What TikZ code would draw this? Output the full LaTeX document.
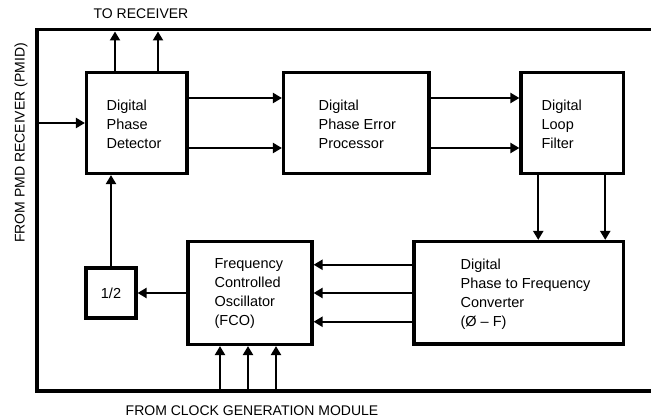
\documentclass[tikz,border=0pt]{standalone}
\usepackage{fontspec}
\setmainfont{Liberation Sans}
\usetikzlibrary{arrows.meta}
\tikzset{
  x=1pt, y=-1pt,
  frame/.style={line width=3.5pt, line cap=rect},
  blk/.style={draw, line width=3.2pt, inner sep=0pt, minimum width=#1},
  blk/.default=100pt,
  lbl/.style={font=\fontsize{14.5}{19}\selectfont, align=left, inner sep=0pt, anchor=west},
  captxt/.style={font=\fontsize{14}{16}\selectfont, inner sep=0pt},
  arr/.style={line width=2.4pt, -{Triangle[width=10pt,length=9pt]}}
}
\begin{document}
\begin{tikzpicture}
\useasboundingbox (0,0) rectangle (651,419);
% frame
\draw[frame] (651,29.5) -- (37,29.5) -- (37,391) -- (651,391);
% boxes
\node[blk=100.5pt, minimum height=101pt] (dpd) at (136.75,123) {};
\node[blk=145.5pt, minimum height=101pt] (dpep) at (356.25,123) {};
\node[blk=102.5pt, minimum height=101pt] (dlf) at (572.25,123) {};
\node[blk=209.5pt, minimum height=102.5pt] (pfc) at (518.75,292.75) {};
\node[blk=124pt, minimum height=103pt] (fco) at (250,293) {};
\node[blk=50pt, minimum height=50pt, font=\fontsize{14.5}{19}\selectfont] (half) at (111,293) {1/2};
% labels
\node[lbl] (dpdt) at ([xshift=21.5pt,yshift=-1pt]dpd.west) {Digital\\Phase\\Detector};
\node[lbl] (dpept) at ([xshift=36.5pt,yshift=-1pt]dpep.west) {Digital\\Phase Error\\Processor};
\node[lbl] (dlft) at ([xshift=22pt,yshift=-1pt]dlf.west) {Digital\\Loop\\Filter};
\node[lbl] (pfct) at ([xshift=48pt,yshift=-1pt]pfc.west) {Digital\\Phase to Frequency\\Converter\\(Ø – F)};
\node[lbl] (fcot) at ([xshift=28pt,yshift=-1pt]fco.west) {Frequency\\Controlled\\Oscillator\\(FCO)};
% captions
\node[captxt] (tor) at (141,14) {TO RECEIVER};
\node[captxt, rotate=90] (fpmd) at (21,143) {FROM PMD RECEIVER (PMID)};
\node[captxt] (fclk) at (252,411) {FROM CLOCK GENERATION MODULE};
% frame coordinates
\coordinate (t1) at (115,31.5);
\coordinate (t2) at (158,31.5);
\coordinate (in) at (38.5,123);
\coordinate (b1) at (220,389.5);
\coordinate (b2) at (248,389.5);
\coordinate (b3) at (276,389.5);
% connectors
\draw[arr] (dpd.north -| t1) -- (t1);
\draw[arr] (dpd.north -| t2) -- (t2);
\draw[arr] (in) -- (dpd.west);
\draw[arr] ([yshift=25pt]dpd.east) -- ([yshift=25pt]dpd.east -| dpep.west);
\draw[arr] ([yshift=-25pt]dpd.east) -- ([yshift=-25pt]dpd.east -| dpep.west);
\draw[arr] ([yshift=25pt]dpep.east) -- ([yshift=25pt]dpep.east -| dlf.west);
\draw[arr] ([yshift=-25pt]dpep.east) -- ([yshift=-25pt]dpep.east -| dlf.west);
\draw[arr] ([xshift=-34pt]dlf.south) -- ([xshift=-34pt]dlf.south |- pfc.north);
\draw[arr] ([xshift=33pt]dlf.south) -- ([xshift=33pt]dlf.south |- pfc.north);
\draw[arr] ([yshift=28pt]pfc.west) -- ([yshift=28pt]pfc.west -| fco.east);
\draw[arr] (pfc.west |- fco.east) -- (fco.east);
\draw[arr] ([yshift=-29pt]pfc.west) -- ([yshift=-29pt]pfc.west -| fco.east);
\draw[arr] (fco.west) -- (half.east);
\draw[arr] (half.north) -- (half.north |- dpd.south);
\draw[arr] (b1) -- (b1 |- fco.south);
\draw[arr] (b2) -- (b2 |- fco.south);
\draw[arr] (b3) -- (b3 |- fco.south);
\end{tikzpicture}
\end{document}
